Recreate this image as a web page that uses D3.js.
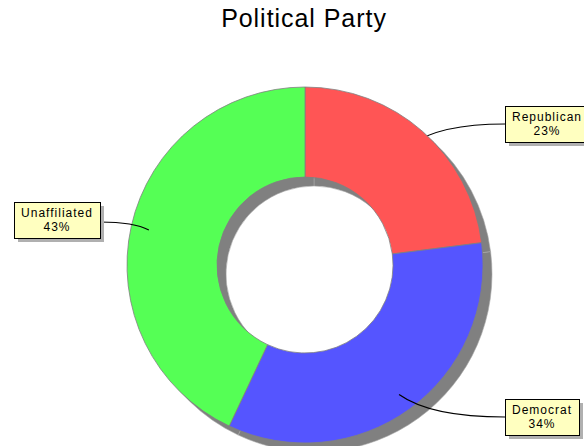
<!DOCTYPE html>
<html>
<head>
<meta charset="utf-8">
<script src="https://cdn.jsdelivr.net/npm/d3@7"></script>
<style>
  body { margin: 0; background: #fff; }
  svg { display: block; font-family: "Liberation Sans", Arial, sans-serif; }
</style>
</head>
<body>
<div id="chart"></div>
<script>
// chart data
var categories = ['Republican', 'Democrat', 'Unaffiliated'];
var values = [23, 34, 43];
var colors = ['#ff5555', '#5555ff', '#55ff55'];
var title = 'Political Party';

var width = 584, height = 446;
var cx = 305, cy = 265;
var outerR = 178, innerR = 88;
var shadowOff = 9;

var svg = d3.select('#chart').append('svg')
	.attr('width', width)
	.attr('height', height);

svg.append('text')
	.attr('x', 304)
	.attr('y', 27)
	.attr('text-anchor', 'middle')
	.attr('font-size', 25)
	.attr('letter-spacing', 0.95)
	.attr('fill', '#000')
	.text(title);

var data = categories.map(function(c, i){
	return {name: c, value: values[i], color: colors[i]};
});

var pie = d3.pie().sort(null).value(function(d){ return d.value; });
var arcs = pie(data);
var arc = d3.arc().innerRadius(innerR).outerRadius(outerR);

// drop shadow of the ring
svg.append('g')
	.attr('transform', 'translate(' + (cx + shadowOff) + ',' + (cy + shadowOff) + ')')
	.selectAll('path')
	.data(arcs)
	.enter().append('path')
	.attr('d', arc)
	.attr('fill', '#808080')
	.attr('stroke', '#a8a8a8')
	.attr('stroke-width', 0.6);

var g = svg.append('g')
	.attr('transform', 'translate(' + cx + ',' + cy + ')');

g.selectAll('path')
	.data(arcs)
	.enter().append('path')
	.attr('d', arc)
	.attr('fill', function(d){ return d.data.color; })
	.attr('stroke', '#808080')
	.attr('stroke-width', 0.8);

// labels
var anchorR = 160, labelR = outerR + 10;
var fs = 12, lineH = 14, padX = 7;

arcs.forEach(function(d){
	var a = (d.startAngle + d.endAngle) / 2;
	var ax = cx + anchorR * Math.sin(a);
	var ay = cy - anchorR * Math.cos(a);
	var ly = cy - labelR * Math.cos(a);
	var right = Math.sin(a) > 0;

	var lg = svg.append('g');
	var t = lg.append('text')
		.attr('text-anchor', 'middle')
		.attr('font-size', fs)
		.attr('letter-spacing', 1.0)
		.attr('fill', '#000');
	t.append('tspan').attr('x', 0).attr('y', -3).text(d.data.name);
	t.append('tspan').attr('x', 0).attr('y', -3 + lineH).text(d.data.value + '%');

	var bb = t.node().getBBox();
	var bw = Math.round(bb.width + padX * 2), bh = 36;
	var bx = right ? (cx + outerR + 22) : (cx - outerR - 27 - bw);
	var by = Math.round(ly - bh / 2) - (right ? 0 : 4);
	var ey = by + bh / 2 + (right ? 0 : 2);
	var ex = right ? bx : bx + bw;

	svg.insert('path', 'g + g')
		.attr('d', 'M' + ax + ',' + ay + 'Q' + (ax + (ex - ax) * 0.3) + ',' + ey + ' ' + ex + ',' + ey)
		.attr('fill', 'none')
		.attr('stroke', '#000')
		.attr('stroke-width', 1.2);

	lg.insert('rect', 'text')
		.attr('x', bx + 4).attr('y', by + 4)
		.attr('width', bw).attr('height', bh)
		.attr('fill', '#b0b0b0');
	lg.insert('rect', 'text')
		.attr('x', bx + 0.5).attr('y', by + 0.5)
		.attr('width', bw).attr('height', bh)
		.attr('fill', '#ffffc0')
		.attr('stroke', '#000')
		.attr('stroke-width', 1);
	t.attr('transform', 'translate(' + (bx + bw / 2) + ',' + (by + bh / 2) + ')');
});
</script>
</body>
</html>
